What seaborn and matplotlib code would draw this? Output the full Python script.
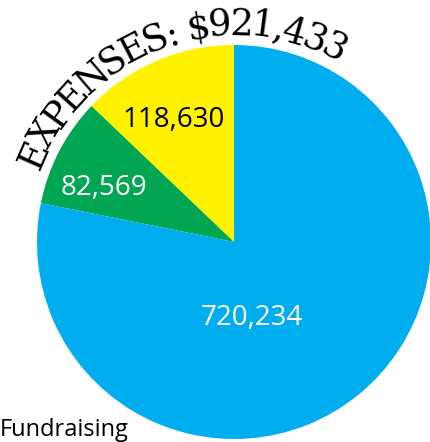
import matplotlib
matplotlib.use('Agg')
import matplotlib.pyplot as plt
from matplotlib.font_manager import FontProperties
import seaborn as sns
import numpy as np

#---- Data ----#
categories = ['Management & General', 'Fundraising', 'Programs']
values = [118630, 82569, 720234]
value_labels = ['118,630', '82,569', '720,234']
title = 'EXPENSES: $921,433'
legend_text = 'Fundraising'

#---- Style ----#
sns.set_theme(style='white')
plt.rcParams['font.family'] = ['Open Sans', 'DejaVu Sans']
pal = sns.color_palette(['#FFF200', '#00A651', '#00AEEF'])
label_colors = ['black', 'white', 'white']
# label spots in pie units (radius = 1)
label_pos = [(-0.305, 0.619), (-0.660, 0.274), (0.091, -0.386)]

W, H = 430, 442
cx, cy, r = 234, 242, 197   # pie centre / radius in pixels

fig = plt.figure(figsize=(W/100, H/100), dpi=100)
fig.patch.set_facecolor('white')
ax = fig.add_axes([0, 0, 1, 1])

ax.pie(values, colors=pal, startangle=90, counterclock=True, radius=1,
       wedgeprops=dict(linewidth=0))
ax.set_xlim(-cx/r, (W-cx)/r)
ax.set_ylim((cy-H)/r, cy/r)
ax.set_aspect('auto')
ax.axis('off')

for lab, (x, y), c in zip(value_labels, label_pos, label_colors):
    ax.text(x, y, lab, color=c, fontsize=20, ha='center', va='center', family='Open Sans')

#---- Curved title ----#
fp = FontProperties(family='DejaVu Serif', size=26.5)
renderer = fig.canvas.get_renderer()
ref = renderer.get_text_width_height_descent('xx', fp, ismath=False)[0]
widths = np.array([renderer.get_text_width_height_descent('x' + ch + 'x', fp, ismath=False)[0] - ref
                   for ch in title])
centers = np.cumsum(widths) - widths/2
t = (centers - centers[0]) / (centers[-1] - centers[0])
a0, a1 = 156.4, 62.7
angles = a0 + t*(a1 - a0)
rb = 207/r
for ch, a in zip(title, angles):
    th = np.deg2rad(a)
    ax.text(rb*np.cos(th), rb*np.sin(th), ch, fontproperties=fp, color='black',
            rotation=a-90, rotation_mode='anchor', ha='center', va='baseline')

fig.text(0.0, 1 - 436/H, legend_text, fontsize=17, ha='left', va='baseline', color='black',
         family='Open Sans')

fig.savefig('out.png', dpi=100, facecolor='white')
